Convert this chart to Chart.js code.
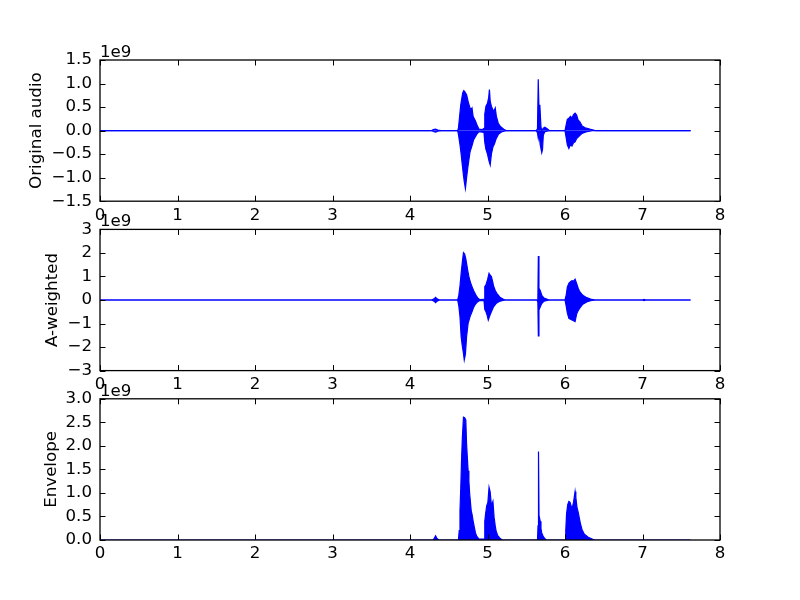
<!DOCTYPE html>
<html><head><meta charset="utf-8">
<script src="https://cdn.jsdelivr.net/npm/chart.js@4"></script>
<style>
html,body{margin:0;padding:0;background:#fff;}
#wrap{position:relative;width:800px;height:600px;background:#fff;}
canvas{position:absolute;left:0;top:0;}
</style></head><body><div id="wrap">
<canvas id="c1" width="800" height="600"></canvas>
<canvas id="c2" width="800" height="600"></canvas>
<canvas id="c3" width="800" height="600"></canvas>
</div>
<script>
// ---- data (time in s, amplitude in units of 1e9) ----
const xTickValues = [0,1,2,3,4,5,6,7,8];
const origTicks = [-1.5,-1.0,-0.5,0.0,0.5,1.0,1.5];
const aweTicks = [-3,-2,-1,0,1,2,3];
const envTicks = [0.0,0.5,1.0,1.5,2.0,2.5,3.0];

const origUpper = [[0,0],[4.28,0],[4.30,0.02],[4.33,0.03],[4.36,0.01],[4.40,0],[4.615,0],[4.625,0.05],[4.64,0.30],[4.655,0.55],[4.67,0.70],[4.68,0.80],[4.695,0.85],[4.71,0.82],[4.73,0.76],[4.75,0.62],[4.77,0.50],[4.785,0.44],[4.80,0.48],[4.815,0.30],[4.84,0.22],[4.865,0.12],[4.89,0.03],[4.93,0.02],[4.955,0.05],[4.965,0.35],[4.98,0.52],[5.00,0.58],[5.015,0.70],[5.025,0.87],[5.035,0.62],[5.05,0.52],[5.07,0.44],[5.085,0.42],[5.10,0.48],[5.115,0.30],[5.14,0.15],[5.17,0.08],[5.21,0.03],[5.24,0],[5.63,0],[5.645,0.04],[5.655,1.09],[5.665,0.40],[5.675,0.55],[5.69,0.08],[5.70,0],[5.72,0.05],[5.74,0.07],[5.77,0.04],[5.80,0],[6.00,0],[6.015,0.12],[6.03,0.24],[6.05,0.26],[6.07,0.30],[6.09,0.27],[6.11,0.34],[6.13,0.37],[6.15,0.33],[6.17,0.22],[6.19,0.19],[6.22,0.10],[6.26,0.06],[6.32,0.03],[6.39,0],[7.62,0]];
const origLower = [[0,0],[4.28,0],[4.30,-0.02],[4.33,-0.03],[4.36,-0.01],[4.40,0],[4.615,0],[4.625,-0.08],[4.645,-0.30],[4.66,-0.50],[4.675,-0.73],[4.69,-0.95],[4.70,-1.08],[4.715,-1.23],[4.73,-1.00],[4.745,-0.80],[4.76,-0.62],[4.775,-0.45],[4.80,-0.32],[4.82,-0.20],[4.86,-0.08],[4.89,-0.02],[4.955,-0.04],[4.965,-0.25],[4.98,-0.40],[5.00,-0.50],[5.02,-0.65],[5.035,-0.73],[5.05,-0.50],[5.07,-0.35],[5.09,-0.28],[5.11,-0.18],[5.14,-0.08],[5.18,-0.03],[5.24,0],[5.63,0],[5.645,-0.05],[5.655,-0.16],[5.665,-0.05],[5.68,-0.30],[5.70,-0.47],[5.71,-0.40],[5.72,-0.10],[5.74,-0.02],[5.80,0],[6.00,0],[6.015,-0.15],[6.03,-0.30],[6.05,-0.38],[6.07,-0.30],[6.09,-0.33],[6.11,-0.26],[6.13,-0.24],[6.15,-0.17],[6.18,-0.12],[6.22,-0.06],[6.27,-0.03],[6.35,0],[7.62,0]];

const aweUpper = [[0,0],[4.28,0],[4.31,0.05],[4.33,0.11],[4.35,0.05],[4.38,0],[4.615,0],[4.63,0.20],[4.645,0.60],[4.66,1.13],[4.675,1.60],[4.69,2.01],[4.705,1.95],[4.72,1.75],[4.73,1.56],[4.745,1.25],[4.76,0.99],[4.78,0.75],[4.80,0.57],[4.82,0.40],[4.84,0.28],[4.86,0.15],[4.88,0.06],[4.90,0.02],[4.955,0.03],[4.965,0.57],[4.98,0.65],[5.00,0.85],[5.02,1.13],[5.035,1.05],[5.05,1.00],[5.065,0.80],[5.08,0.57],[5.10,0.40],[5.12,0.28],[5.16,0.12],[5.20,0.04],[5.23,0],[5.64,0],[5.65,0.10],[5.656,1.87],[5.664,0.50],[5.68,0.40],[5.70,0.20],[5.73,0.08],[5.78,0.02],[5.80,0],[6.00,0],[6.015,0.20],[6.03,0.55],[6.05,0.71],[6.07,0.78],[6.09,0.82],[6.11,0.80],[6.13,0.88],[6.15,0.70],[6.17,0.50],[6.19,0.35],[6.23,0.20],[6.28,0.10],[6.33,0.04],[6.39,0],[7.00,0],[7.02,0.03],[7.04,0],[7.62,0]];
const aweLower = [[0,0],[4.28,0],[4.31,-0.05],[4.33,-0.11],[4.35,-0.05],[4.38,0],[4.615,0],[4.63,-0.25],[4.645,-0.71],[4.66,-1.56],[4.675,-1.95],[4.69,-2.27],[4.70,-2.55],[4.715,-2.30],[4.73,-1.56],[4.75,-0.99],[4.775,-0.70],[4.80,-0.50],[4.82,-0.32],[4.84,-0.20],[4.87,-0.08],[4.90,-0.02],[4.955,-0.03],[4.965,-0.40],[4.98,-0.50],[4.995,-0.64],[5.01,-0.85],[5.025,-0.70],[5.05,-0.50],[5.08,-0.28],[5.11,-0.15],[5.15,-0.06],[5.20,-0.02],[5.23,0],[5.64,0],[5.65,-0.10],[5.656,-1.53],[5.664,-0.43],[5.68,-0.30],[5.70,-0.15],[5.73,-0.05],[5.80,0],[6.00,0],[6.015,-0.25],[6.03,-0.55],[6.05,-0.78],[6.07,-0.82],[6.09,-0.85],[6.11,-0.88],[6.13,-0.92],[6.15,-0.60],[6.17,-0.45],[6.19,-0.35],[6.23,-0.18],[6.28,-0.08],[6.33,-0.03],[6.39,0],[7.00,0],[7.02,-0.03],[7.04,0],[7.62,0]];

const envValues = [[0,0],[4.30,0],[4.32,0.06],[4.33,0.09],[4.345,0.04],[4.37,0],[4.625,0],[4.635,0.20],[4.645,0.62],[4.655,1.10],[4.665,1.69],[4.675,2.15],[4.69,2.61],[4.705,2.60],[4.72,2.55],[4.73,2.04],[4.74,1.75],[4.75,1.47],[4.76,1.25],[4.77,0.98],[4.78,0.80],[4.79,0.62],[4.80,0.55],[4.815,0.40],[4.83,0.27],[4.845,0.15],[4.86,0.08],[4.89,0.02],[4.955,0.02],[4.965,0.40],[4.975,0.55],[4.99,0.73],[5.005,0.80],[5.02,1.12],[5.035,1.02],[5.05,0.73],[5.07,0.82],[5.085,0.48],[5.10,0.30],[5.11,0.20],[5.13,0.10],[5.16,0.04],[5.19,0],[5.645,0],[5.652,0.30],[5.658,1.88],[5.665,0.52],[5.68,0.40],[5.69,0.24],[5.70,0.15],[5.72,0.07],[5.745,0.02],[5.76,0],[6.00,0],[6.01,0.20],[6.02,0.55],[6.035,0.75],[6.05,0.82],[6.065,0.80],[6.09,0.66],[6.11,0.80],[6.13,1.03],[6.14,0.90],[6.155,0.69],[6.17,0.59],[6.20,0.34],[6.22,0.22],[6.25,0.12],[6.30,0.06],[6.38,0],[7.62,0]];

const SCALE = 1e9;
const FONT = 16.67;
Chart.defaults.font.family = '"DejaVu Sans", sans-serif';
Chart.defaults.font.size = FONT;
Chart.defaults.color = '#000';

const toPts = arr => arr.map(p => ({x: p[0], y: p[1] * SCALE}));
const minus = s => s.replace('-', '\u2212');

const framePlugin = {
  id: 'frame',
  afterDraw(chart, args, opts) {
    const {ctx, chartArea: a, scales: {x, y}} = chart;
    const L = 5.5;
    ctx.save();
    ctx.strokeStyle = '#000';
    ctx.lineWidth = 1;
    ctx.beginPath();
    x.ticks.forEach(t => {
      const p = Math.round(x.getPixelForValue(t.value)) + 0.5;
      ctx.moveTo(p, a.top); ctx.lineTo(p, a.top + L);
      ctx.moveTo(p, a.bottom); ctx.lineTo(p, a.bottom - L);
    });
    y.ticks.forEach(t => {
      const p = Math.round(y.getPixelForValue(t.value)) + 0.5;
      ctx.moveTo(a.left, p); ctx.lineTo(a.left + L, p);
      ctx.moveTo(a.right, p); ctx.lineTo(a.right - L, p);
    });
    ctx.stroke();
    ctx.lineWidth = 1.3;
    ctx.strokeRect(a.left, a.top, a.right - a.left, a.bottom - a.top);
    ctx.fillStyle = '#000';
    ctx.font = FONT + 'px "DejaVu Sans"';
    ctx.textAlign = 'left';
    ctx.textBaseline = 'alphabetic';
    ctx.fillText(opts.text, a.left, a.top - 3);
    ctx.restore();
  }
};

function makeChart(id, top, bottom, datasets, yTicks, yMin, yMax, decimals, label, titlePad) {
  const ds = datasets.map(d => ({
    data: toPts(d),
    borderColor: '#0000ff',
    backgroundColor: '#0000ff',
    borderWidth: 1.2,
    pointRadius: 0,
    tension: 0,
    fill: 'origin'
  }));
  return new Chart(document.getElementById(id), {
    type: 'line',
    data: {datasets: ds},
    plugins: [framePlugin],
    options: {
      responsive: false,
      animation: false,
      events: [],
      layout: {padding: {left: 0, right: 80, top: top, bottom: 600 - bottom - 30}},
      plugins: {legend: {display: false}, tooltip: {enabled: false}, frame: {text: '1e9'}},
      scales: {
        x: {
          type: 'linear', min: 0, max: 8,
          afterBuildTicks: s => { s.ticks = xTickValues.map(v => ({value: v})); },
          afterFit: s => { s.height = 30; },
          grid: {display: false, drawTicks: false},
          border: {display: false},
          ticks: {padding: 4, maxRotation: 0, autoSkip: false, callback: v => String(v)}
        },
        y: {
          type: 'linear', min: yMin * SCALE, max: yMax * SCALE,
          afterBuildTicks: s => { s.ticks = yTicks.map(v => ({value: v * SCALE})); },
          afterFit: s => { s.width = 100; },
          grid: {display: false, drawTicks: false},
          border: {display: false},
          ticks: {padding: 8, autoSkip: false, callback: v => minus((v / SCALE).toFixed(decimals))},
          title: {display: true, text: label, padding: {top: titlePad, bottom: 0}, font: {size: FONT}}
        }
      }
    }
  });
}

makeChart('c1', 60, 201.2, [origUpper, origLower], origTicks, -1.5, 1.5, 1, 'Original audio', 27);
makeChart('c2', 229.4, 370.6, [aweUpper, aweLower], aweTicks, -3, 3, 0, 'A-weighted', 43);
makeChart('c3', 398.8, 540, [envValues], envTicks, 0, 3, 1, 'Envelope', 42);
</script>
</body></html>
